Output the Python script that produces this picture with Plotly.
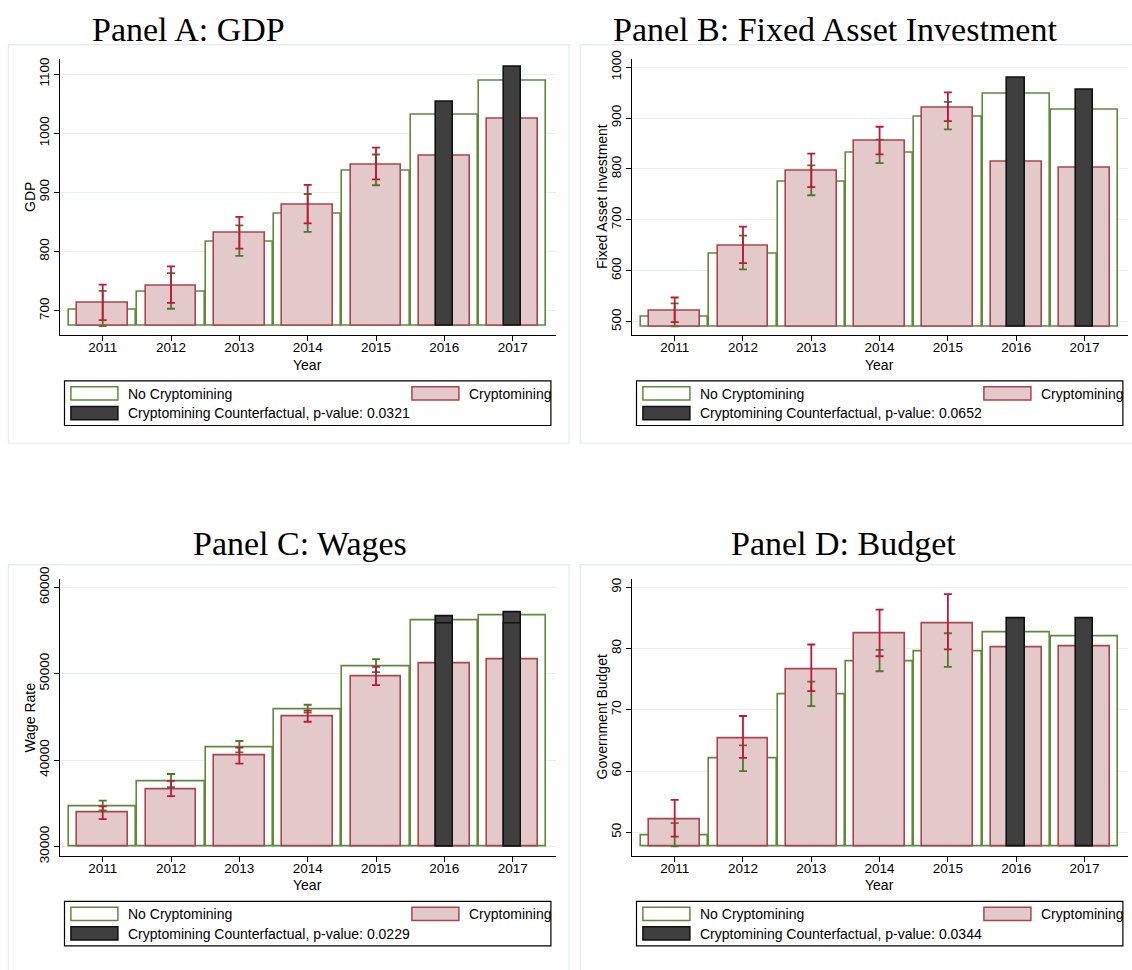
import plotly.graph_objects as go

# ---------------- data ----------------
years = [2011, 2012, 2013, 2014, 2015, 2016, 2017]
cf_years = [2016, 2017]
ci_years = [2011, 2012, 2013, 2014, 2015]

titles = ["Panel A: GDP", "Panel B: Fixed Asset Investment", "Panel C: Wages", "Panel D: Budget"]
y_titles = ["GDP", "Fixed Asset Investment", "Wage Rate", "Government Budget"]
p_values = ["0.0321", "0.0652", "0.0229", "0.0344"]

gdp_no = [702, 731.5, 816.6, 863.5, 936.5, 1032, 1088.4]
gdp_cm = [712.7, 743, 831, 878.5, 947.5, 962.4, 1024.3]
gdp_cf = [1052.5, 1111.6]
gdp_no_lo = [674, 703.3, 792.8, 833.1, 912]
gdp_no_hi = [733.7, 763.5, 844.2, 897.2, 964]
gdp_cm_lo = [684, 713.3, 805, 847.5, 922.1]
gdp_cm_hi = [744.2, 775.1, 858.6, 912.7, 975.7]

fai_no = [510.3, 633.8, 775.4, 832.7, 902.8, 947.9, 917]
fai_cm = [522.5, 649.3, 796, 855.2, 920.2, 814, 803]
fai_cf = [980, 955]
fai_no_lo = [491, 603, 748.4, 811.5, 877.7]
fai_no_hi = [536, 669.2, 807, 857.8, 931.8]
fai_cm_lo = [499.4, 615.2, 764.5, 828.8, 893.8]
fai_cm_hi = [547.6, 686.6, 830, 882.9, 950.4]

wage_no = [34647, 37518, 41485, 45830, 50893, 56182, 56749]
wage_cm = [33967, 36649, 40503, 45036, 49645, 51194, 51610]
wage_cf = [56635, 57100]
wage_cf_inner = [55800, 55800]
wage_no_lo = [34160, 36876, 40880, 45490, 50175]
wage_no_hi = [35293, 38387, 42203, 46397, 51686]
wage_cm_lo = [33173, 35818, 39596, 44432, 48663]
wage_cm_hi = [34647, 37594, 41447, 45716, 50779]

bud_no = [49.47, 62, 72.56, 77.95, 79.55, 82.6, 82.05]
bud_cm = [52.13, 65.4, 76.67, 82.43, 84.13, 80.13, 80.4]
bud_cf = [84.88, 84.88]
bud_no_lo = [47.7, 60.0, 70.6, 76.3, 77.0]
bud_no_hi = [51.5, 64.2, 74.6, 79.8, 82.5]
bud_cm_lo = [49.3, 62.16, 73.04, 78.75, 79.87]
bud_cm_hi = [55.28, 68.99, 80.67, 86.37, 88.88]

gdp_ticks = [700, 800, 900, 1000, 1100]
fai_ticks = [500, 600, 700, 800, 900, 1000]
wage_ticks = [30000, 40000, 50000, 60000]
bud_ticks = [50, 60, 70, 80, 90]

# ---------------- styling / geometry ----------------
W, H = 1132, 970
GREEN = "#5f8a3c"
GREEN_ERR = "#4d7a28"
PINK = "#e4c9cb"
PINK_LINE = "#a8464f"
RED_ERR = "#c8143c"
DARK = "#3f3f3f"
GRID = "#e8eff1"
FRAME = "#e3ebee"
SANS = "Liberation Sans, Arial, sans-serif"
SERIF = "Liberation Serif, Times New Roman, serif"

def px(x):
    return x / W

def py(y):
    return 1 - y / H

panels = [
    dict(no=gdp_no, cm=gdp_cm, cf=gdp_cf, inner=None,
         no_lo=gdp_no_lo, no_hi=gdp_no_hi, cm_lo=gdp_cm_lo, cm_hi=gdp_cm_hi,
         ticks=gdp_ticks, base=673.8, yr=[658.6, 1125.8],
         x0=60, x1=555.7, top=46.7, bot=329, tx=188.6, ty=17,
         frame=(8.3, 32.3, 569, 439.3)),
    dict(no=fai_no, cm=fai_cm, cf=fai_cf, inner=None,
         no_lo=fai_no_lo, no_hi=fai_no_hi, cm_lo=fai_cm_lo, cm_hi=fai_cm_hi,
         ticks=fai_ticks, base=490.6, yr=[473.5, 1016.5],
         x0=632, x1=1127.5, top=46.7, bot=329, tx=835, ty=17,
         frame=(580.3, 32.3, 1145, 439.3)),
    dict(no=wage_no, cm=wage_cm, cf=wage_cf, inner=wage_cf_inner,
         no_lo=wage_no_lo, no_hi=wage_no_hi, cm_lo=wage_cm_lo, cm_hi=wage_cm_hi,
         ticks=wage_ticks, base=30000, yr=[28946, 60907],
         x0=60, x1=555.7, top=578.3, bot=860.3, tx=299.5, ty=542,
         frame=(8.3, 563.3, 569, 985)),
    dict(no=bud_no, cm=bud_cm, cf=bud_cf, inner=None,
         no_lo=bud_no_lo, no_hi=bud_no_hi, cm_lo=bud_cm_lo, cm_hi=bud_cm_hi,
         ticks=bud_ticks, base=47.7, yr=[46.2, 91.3],
         x0=632, x1=1127.5, top=578.3, bot=860.3, tx=843, ty=542,
         frame=(580.3, 563.3, 1145, 985)),
]

fig = go.Figure()
shapes = []
annotations = []

for i, p in enumerate(panels):
    n = "" if i == 0 else str(i + 1)
    xa, ya = "x" + n, "y" + n
    b = p["base"]

    # No Cryptomining (outline bars)
    fig.add_trace(go.Bar(x=years, y=[v - b for v in p["no"]], base=b, width=0.985,
                         marker=dict(color="white", line=dict(color=GREEN, width=1.6)),
                         xaxis=xa, yaxis=ya, showlegend=False, hoverinfo="skip"))
    # Cryptomining
    fig.add_trace(go.Bar(x=years, y=[v - b for v in p["cm"]], base=b, width=0.745,
                         marker=dict(color=PINK, line=dict(color=PINK_LINE, width=1.6)),
                         xaxis=xa, yaxis=ya, showlegend=False, hoverinfo="skip"))
    # Counterfactual
    fig.add_trace(go.Bar(x=cf_years, y=[v - b for v in p["cf"]], base=b, width=0.255,
                         marker=dict(color=DARK, line=dict(color="#111111", width=1.6)),
                         xaxis=xa, yaxis=ya, showlegend=False, hoverinfo="skip"))
    if p["inner"] is not None:
        fig.add_trace(go.Bar(x=cf_years, y=[v - b for v in p["inner"]], base=b, width=0.255,
                             marker=dict(color=DARK, line=dict(color="#111111", width=1.4)),
                             xaxis=xa, yaxis=ya, showlegend=False, hoverinfo="skip"))

    # error bars: No Cryptomining (green), then Cryptomining (red)
    mid_no = [(lo + hi) / 2 for lo, hi in zip(p["no_lo"], p["no_hi"])]
    fig.add_trace(go.Scatter(x=ci_years, y=mid_no, mode="markers",
                             marker=dict(size=1, color="rgba(0,0,0,0)"),
                             error_y=dict(type="data", symmetric=False,
                                          array=[hi - m for hi, m in zip(p["no_hi"], mid_no)],
                                          arrayminus=[m - lo for lo, m in zip(p["no_lo"], mid_no)],
                                          color=GREEN_ERR, thickness=1.8, width=4),
                             xaxis=xa, yaxis=ya, showlegend=False, hoverinfo="skip"))
    mid_cm = [(lo + hi) / 2 for lo, hi in zip(p["cm_lo"], p["cm_hi"])]
    fig.add_trace(go.Scatter(x=ci_years, y=mid_cm, mode="markers",
                             marker=dict(size=1, color="rgba(0,0,0,0)"),
                             error_y=dict(type="data", symmetric=False,
                                          array=[hi - m for hi, m in zip(p["cm_hi"], mid_cm)],
                                          arrayminus=[m - lo for lo, m in zip(p["cm_lo"], mid_cm)],
                                          color=RED_ERR, thickness=1.8, width=4),
                             xaxis=xa, yaxis=ya, showlegend=False, hoverinfo="skip"))

    xkey = "xaxis" + n
    ykey = "yaxis" + n
    fig.layout[xkey] = dict(domain=[px(p["x0"]), px(p["x1"])], anchor=ya,
                            range=[2010.375, 2017.63], tickvals=years,
                            ticktext=[str(y) for y in years],
                            showline=True, linecolor="black", linewidth=1,
                            ticks="outside", ticklen=5, tickcolor="black",
                            ticklabelstandoff=-5,
                            showgrid=False, zeroline=False,
                            tickfont=dict(family=SANS, size=13.5, color="black"))
    fig.layout[ykey] = dict(domain=[py(p["bot"]), py(p["top"])], anchor=xa,
                            range=p["yr"], tickvals=p["ticks"],
                            ticktext=[str(t) for t in p["ticks"]],
                            showline=True, linecolor="black", linewidth=1,
                            ticks="outside", ticklen=5, tickcolor="black",
                            showgrid=True, gridcolor=GRID, gridwidth=1,
                            zeroline=False, tickangle=-90,
                            tickfont=dict(family=SANS, size=13.5, color="black"))

    # panel frame
    fx0, fy0, fx1, fy1 = p["frame"]
    shapes.append(dict(type="rect", xref="paper", yref="paper",
                       x0=px(fx0), x1=px(fx1), y0=py(fy1), y1=py(fy0),
                       line=dict(color=FRAME, width=1.2), fillcolor="rgba(0,0,0,0)", layer="below"))

    # title
    annotations.append(dict(text=titles[i], xref="paper", yref="paper",
                            x=px(p["tx"]), y=py(p["ty"]), xanchor="center", yanchor="middle",
                            showarrow=False, font=dict(family=SERIF, size=34, color="black")))
    # y title
    annotations.append(dict(text=y_titles[i], xref="paper", yref="paper",
                            x=px(p["x0"] - 30), y=py((p["top"] + p["bot"]) / 2),
                            xanchor="center", yanchor="middle", textangle=-90,
                            showarrow=False, font=dict(family=SANS, size=14, color="black")))
    # x title
    annotations.append(dict(text="Year", xref="paper", yref="paper",
                            x=px((p["x0"] + p["x1"]) / 2 - 0.5), y=py(p["bot"] + 30.5),
                            xanchor="center", yanchor="middle",
                            showarrow=False, font=dict(family=SANS, size=14, color="black")))

    # legend
    lx0 = p["x0"] + 4.5
    lx1 = lx0 + 486.4
    ly0 = p["bot"] + 46.7
    ly1 = ly0 + 45.5
    shapes.append(dict(type="rect", xref="paper", yref="paper",
                       x0=px(lx0), x1=px(lx1), y0=py(ly1), y1=py(ly0),
                       line=dict(color="black", width=1.2), fillcolor="white"))
    entries = [
        (lx0 + 6.4, ly0 + 6, "white", GREEN, "No Cryptomining"),
        (lx0 + 347.4, ly0 + 6, PINK, PINK_LINE, "Cryptomining"),
        (lx0 + 6.4, ly0 + 26, DARK, "#111111", "Cryptomining Counterfactual, p-value: " + p_values[i]),
    ]
    for sx, sy, fc, lc, txt in entries:
        shapes.append(dict(type="rect", xref="paper", yref="paper",
                           x0=px(sx), x1=px(sx + 47), y0=py(sy + 13.5), y1=py(sy),
                           line=dict(color=lc, width=1.5), fillcolor=fc))
        annotations.append(dict(text=txt, xref="paper", yref="paper",
                                x=px(sx + 55), y=py(sy + 6.9), xanchor="left", yanchor="middle",
                                showarrow=False, font=dict(family=SANS, size=14, color="black")))

fig.update_layout(width=W, height=H, autosize=False,
                  margin=dict(l=0, r=0, t=0, b=0),
                  paper_bgcolor="white", plot_bgcolor="white",
                  barmode="overlay", bargap=0,
                  shapes=shapes, annotations=annotations)

fig.write_html("out.html", config={"displayModeBar": False},
               post_script="document.body.style.margin='0';")
